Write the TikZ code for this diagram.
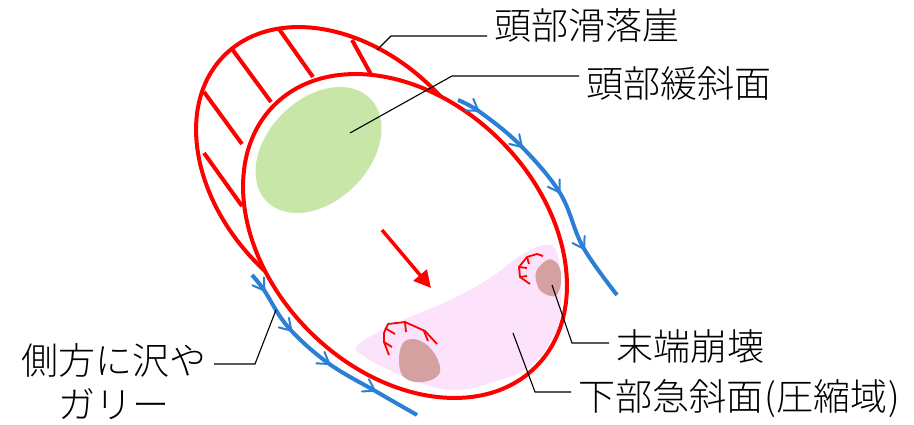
\documentclass[tikz,border=0pt]{standalone}
\usepackage{fontspec}
\newfontfamily\jp{Noto Sans CJK JP Light}
\usetikzlibrary{arrows.meta,decorations.markings}
\definecolor{slipred}{HTML}{FF0000}
\definecolor{flowblue}{HTML}{2B7FD6}
\definecolor{gentlegreen}{HTML}{C7E6A8}
\definecolor{pinkzone}{HTML}{FDE2FB}
\definecolor{collapse}{HTML}{D5A0A0}
\newcommand\flowchev{\draw[draw=flowblue, line width=2pt, line cap=round, line join=miter] (-11pt,7pt) -- (0pt,0pt) -- (-11pt,-7pt);}
\begin{document}
\begin{tikzpicture}[x=1pt,y=-1pt,
  rim/.style={draw=slipred, line width=4pt},
  hatch/.style={draw=slipred, line width=4pt},
  crack/.style={draw=slipred, line width=1.8pt, line join=round},
  flow/.style={draw=flowblue, line width=4pt, postaction=decorate,
    decoration={markings,
      mark=at position 0.09 with {\flowchev},
      mark=at position 0.31 with {\flowchev},
      mark=at position 0.54 with {\flowchev},
      mark=at position 0.78 with {\flowchev}}},
  leader/.style={draw=black, line width=1.1pt},
  lbltext/.style={font=\jp\fontsize{37}{44}\selectfont, inner xsep=7pt, inner ysep=0pt},
  lbl/.style={lbltext, anchor=base west}]
\useasboundingbox[fill=white] (0,0) rectangle (914,424);

% back rim of the landslide (head scarp)
\begin{scope}[shift={(346,177)}, rotate=-45]
  \draw[rim] (0,0) ellipse [x radius=172pt, y radius=124pt];
\end{scope}
% scarp hatching
\draw[hatch] (232,49) -- (271,102);
\draw[hatch] (279,29) -- (313,77);
\draw[hatch] (352,40) -- (373,78);
\draw[hatch] (204,92) -- (242,144);
\draw[hatch] (204,153) -- (242,206);

% main body of the landslide
\begin{scope}[shift={(405,236)}, rotate=-45]
  \draw[rim, fill=white] (0,0) ellipse [x radius=185pt, y radius=135pt];
\end{scope}

% gentle head slope
\begin{scope}[shift={(318.5,150)}, rotate=45]
  \fill[gentlegreen] (0,0) ellipse [x radius=73pt, y radius=51pt];
\end{scope}

% lower steep slope (compression zone)
\fill[pinkzone] plot[smooth cycle, tension=0.7] coordinates {
  (357,346) (380,331) (410,317) (450,300) (490,278) (520,256) (545,245)
  (557,253) (561,290) (556,332) (530,366) (490,383) (455,390) (420,383)
  (385,368) (362,355)};

% toe collapses
\fill[collapse] plot[smooth cycle, tension=0.6] coordinates {
  (403,343) (414,339) (427,345) (437,358) (440,372) (431,380) (415,382) (402,375) (399,358)};
\fill[collapse] plot[smooth cycle, tension=0.6] coordinates {
  (536,272) (547,260) (556,262) (561,273) (560,288) (555,296) (545,294) (538,287)};

% crown cracks of the collapses
\draw[crack] (389,355) -- (384,342) -- (384,333) -- (388,324) -- (405,322) -- (425,331) -- (437,344);
\draw[crack] (385,328) -- (395,334);
\draw[crack] (405,322) -- (406,332);
\draw[crack] (424,331) -- (428,341);
\draw[crack] (384,342) -- (392,347);
\draw[crack] (543,256) -- (537,254) -- (527,257) -- (519,267) -- (520,277) -- (530,284);
\draw[crack] (527,257) -- (529,264);
\draw[crack] (519,267) -- (527,268);
\draw[crack] (520,277) -- (527,276);

% movement direction
\coordinate (mvA) at (382,230);
\coordinate (mvB) at (431,288);
\draw[slipred, line width=3.5pt, -{Triangle[length=17pt,width=17pt]}] (mvA) -- (mvB);

% lateral streams and gullies
\draw[flow] plot[smooth, tension=0.6] coordinates {
  (458,100) (480,112) (520,145) (560,193) (583,247) (617,295)};
\draw[flow] plot[smooth, tension=0.6] coordinates {
  (252,275) (264,290) (288,327) (328,363) (377,392) (417,415)};

% labels
\node[lbl] (t1) at (487,39) {頭部滑落崖};
\node[lbl] (t2) at (579,97) {頭部緩斜面};
\node[lbl] (t3) at (609,360) {末端崩壊};
\node[lbl] (t4) at (571,410) {下部急斜面\kern1pt(\kern1pt圧縮域\kern1pt)};
\node[lbltext, align=center, anchor=base east] (t5) at (214,418) {側方に沢や\\ガリー};

% leader lines
\coordinate (p1) at (377,50);  \coordinate (b1) at (391,36);
\coordinate (p2) at (350,133); \coordinate (b2) at (452,76);
\coordinate (p3) at (552,285); \coordinate (b3) at (572,343);
\coordinate (p4) at (513,333); \coordinate (b4) at (535,392);
\coordinate (p5) at (276,310); \coordinate (b5) at (255,364);
\draw[leader] (p1) -- (b1) -- (b1 -| t1.west);
\draw[leader] (p2) -- (b2) -- (b2 -| t2.west);
\draw[leader] (p3) -- (b3) -- (b3 -| t3.west);
\draw[leader] (p4) -- (b4) -- (b4 -| t4.west);
\draw[leader] (p5) -- (b5) -- (b5 -| t5.east);
\end{tikzpicture}
\end{document}
